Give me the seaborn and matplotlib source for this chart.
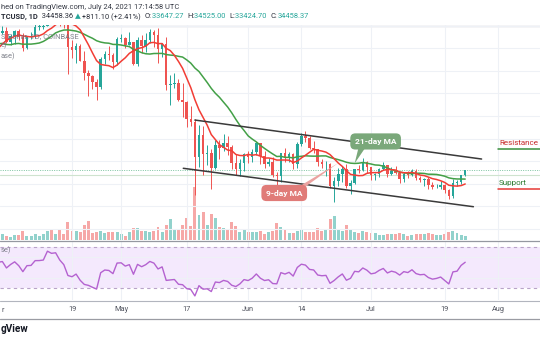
import numpy as np
import pandas as pd
import matplotlib
matplotlib.use("Agg")
import matplotlib.pyplot as plt
from matplotlib.lines import Line2D
import seaborn as sns

sns.set_theme(style="white")
plt.rcParams["font.family"] = ["Roboto", "DejaVu Sans"]

# ---------------- data: BTC/USD daily (Coinbase), 1 Apr - 24 Jul 2021 ----------------
dates = pd.date_range("2021-04-01", "2021-07-24", freq="D")

closes = [
    58720, 58980, 57060, 58200, 59120, 57990, 56040, 57990, 58080, 59760,
    59780, 59960, 63500, 62960, 63200, 61400, 60070, 56220, 55700, 56480,
    53800, 51700, 51180, 50110, 49080, 54020, 55050, 54860, 53560, 57720,
    57830, 56620, 57180, 53230, 57480, 56440, 57380, 58930, 58280, 55860,
    56750, 49500, 49690, 49860, 46760, 46450, 43560, 42880, 36700, 40620,
    37340, 37480, 34770, 38800, 38350, 39290, 38550, 35680, 34640, 35650,
    37300,
    36690, 37580, 39200, 36870, 35530, 35800, 33570, 33400, 37390, 36690,
    37340, 35550, 39020, 40530, 40160, 38330, 38100, 35820, 35480, 35600,
    31600, 32500, 33680, 34660, 31600, 32230, 34700, 34490, 35910, 35040,
    33540, 33800, 34670, 35290, 33690, 34230, 33860, 32880, 33810, 33520,
    34250, 33090, 32730, 32820, 31880, 31390, 31530, 31780, 30840, 29790,
    32140, 32290, 33647.27, 34458.37,
]
highs = [
    59460, 60000, 59800, 58500, 59250, 59500, 58650, 58150, 58900, 61200,
    60700, 61200, 63750, 64895, 63800, 63600, 62500, 60400, 57500, 57000,
    56800, 55500, 52100, 51200, 50500, 54400, 55500, 56400, 55200, 58000,
    58450, 57950, 58950, 57200, 57950, 58350, 58650, 59500, 59300, 59600,
    56900, 58000, 51350, 51550, 50650, 49800, 46650, 45800, 43550, 42450,
    42200, 38850, 38250, 39850, 39800, 40800, 40400, 38850, 37300, 36400,
    37500,
    37900, 38200, 39500, 39300, 37900, 36500, 36800, 34050, 37550, 38400,
    37650, 37450, 39350, 41000, 41330, 40500, 39550, 38200, 36450, 36100,
    35750, 33300, 34850, 35250, 35500, 32700, 34700, 35300, 36600, 36000,
    35050, 33950, 34900, 35950, 35300, 35050, 35100, 33900, 34100, 34250,
    34600, 34650, 33350, 33100, 33200, 32250, 31950, 32450, 31900, 31050,
    32850, 32600, 33650, 34525.00,
]
lows = [
    57950, 58450, 56900, 56500, 56800, 57500, 55500, 55800, 57700, 57900,
    59200, 59400, 59900, 61300, 62000, 60000, 59600, 51500, 54200, 53400,
    53700, 50400, 47500, 48800, 46900, 48800, 53300, 53900, 52400, 53050,
    57050, 56050, 56500, 53050, 52900, 55200, 55300, 56950, 56250, 53400,
    54400, 48600, 46000, 48900, 46650, 43900, 42100, 42300, 30000, 35050,
    33500, 35300, 31100, 34600, 36450, 37800, 37200, 34700, 33650, 33400,
    34200,
    35700, 35950, 37200, 35600, 34800, 35250, 33300, 31000, 32400, 35800,
    35950, 34650, 34800, 38750, 39500, 38100, 37400, 35150, 34850, 33350,
    31300, 28805, 31700, 32300, 31300, 30150, 32000, 33900, 34250, 34000,
    32700, 32700, 33300, 34400, 33200, 33550, 33800, 32100, 32250, 33050,
    33320, 32700, 32250, 31600, 31150, 31050, 31200, 31100, 30400, 29280,
    29500, 31700, 31950, 33424.70,
]
# daily traded volume, thousand BTC
volumes = [
    14.0, 14.4, 10.3, 7.9, 12.0, 12.0, 20.9, 10.3, 10.3, 14.4,
    9.6, 13.7, 21.6, 26.4, 13.7, 23.3, 14.4, 43.2, 20.9, 21.6,
    19.9, 36.0, 46.3, 17.5, 19.2, 21.6, 17.5, 18.5, 18.5, 19.2,
    14.4, 9.6, 18.5, 28.1, 28.1, 22.3, 21.6, 19.9, 21.6, 30.5,
    19.2, 35.3, 49.7, 25.7, 25.7, 36.7, 52.1, 33.6, 127.2, 60.0,
    66.5, 35.3, 63.1, 52.1, 30.5, 28.8, 24.0, 43.2, 34.3, 19.2,
    24.0,
    18.5, 18.5, 19.2, 22.3, 15.1, 18.5, 22.3, 40.1, 30.5, 24.0,
    17.5, 17.5, 20.9, 25.7, 19.9, 19.9, 19.9, 28.1, 22.3, 24.0,
    49.7, 57.6, 26.4, 21.6, 36.0, 24.0, 19.2, 17.5, 21.6, 19.2,
    17.5, 16.1, 11.3, 11.3, 14.4, 14.4, 14.4, 17.5, 15.1, 10.3,
    12.7, 14.4, 14.4, 14.4, 16.1, 15.1, 12.0, 11.3, 14.4, 19.2,
    20.9, 16.1, 12.0, 10.3,
]
# March 2021 closes, used only to warm up the moving averages and RSI
march_closes = [
    49600, 48400, 50350, 48370, 48750, 48880, 50970, 52380, 54880, 55860,
    57790, 57230, 61190, 59000, 55610, 56870, 58880, 57650, 58030, 58100,
    57350, 54090, 54340, 52300, 51300, 55050, 55850, 55780, 57620, 58780,
    58800,
]

tick_dates = pd.to_datetime(["2021-04-01", "2021-04-19", "2021-05-01", "2021-05-17",
                             "2021-06-01", "2021-06-14", "2021-07-01", "2021-07-19",
                             "2021-08-01"])
tick_labels = ["", "19", "May", "17", "Jun", "14", "Jul", "19", "Aug"]

# descending channel drawn on the chart
upper_dates = pd.to_datetime(["2021-05-19 00:00", "2021-07-28 00:00"])
upper_prices = [43300, 36400]
lower_dates = pd.to_datetime(["2021-05-16 04:00", "2021-07-26 00:00"])
lower_prices = [34760, 27960]

resistance = 38100
support = 31100
level_start = pd.Timestamp("2021-08-01")

# ---------------- derived series ----------------
opens = [march_closes[-1]] + closes[:-1]
o, h, l, c = map(np.asarray, (opens, highs, lows, closes))
rising = c >= o
colors = np.where(rising, "#26a69a", "#ef5350")

hist = pd.Series(march_closes + closes,
                 index=pd.date_range("2021-03-01", "2021-07-24", freq="D"))
ma9 = hist.rolling(9).mean().loc[dates[0]:]
ma21 = hist.rolling(21).mean().loc[dates[0]:]
delta = hist.diff()
gain = delta.clip(lower=0).ewm(alpha=1 / 14, adjust=False).mean()
loss = (-delta.clip(upper=0)).ewm(alpha=1 / 14, adjust=False).mean()
rsi = (100 - 100 / (1 + gain / loss)).loc[dates[0]:]

# ---------------- figure layout (pixel based) ----------------
W, H = 540, 340
fig = plt.figure(figsize=(W / 100, H / 100), dpi=100)
fig.patch.set_facecolor("white")


def fy(px):
    return 1 - px / H


ax = fig.add_axes([0, fy(240), 1, 215 / H])
axv = ax.twinx()
ax_r = fig.add_axes([0, fy(300), 1, 59 / H], sharex=ax)

anchor = pd.Timestamp("2021-04-19")
x0 = anchor - pd.Timedelta(days=17.58)
x1 = anchor + pd.Timedelta(days=114.26)

ax.set_zorder(2)
axv.set_zorder(1)
ax.patch.set_visible(False)
axv.patch.set_facecolor("white")

for a in (ax, axv, ax_r):
    for s in a.spines.values():
        s.set_visible(False)

# grid
ax.set_xlim(x0, x1)
ax.set_ylim(22068, 60123)
ax.set_yticks(np.arange(24000, 60001, 4000))
ax.set_xticks(tick_dates)
ax.grid(True, color="#eef1f6", lw=0.8)
ax.tick_params(labelbottom=False, labelleft=False, left=False, bottom=False, length=0)
axv.set_ylim(0, 516)
axv.set_yticks([])
axv.tick_params(right=False, labelright=False)

# volume
axv.bar(dates, volumes, width=0.72, color=colors, alpha=0.5, linewidth=0)

# price reference lines
ax.axhline(opens[-1], color="#cfe3cf", lw=0.8, zorder=1)
ax.axhline(closes[-1], color="#7cc4a0", lw=0.7, ls=(0, (1, 1.4)), zorder=1)

# candles
ax.vlines(dates, l, h, colors=colors, lw=0.7, zorder=3)
body = np.maximum(np.abs(c - o), 110)
ax.bar(dates, body, bottom=np.minimum(o, c), width=0.62, color=colors,
       linewidth=0, zorder=4)

# moving averages
sns.lineplot(x=ma21.index, y=ma21.values, ax=ax, color="#43a047", lw=1.1, zorder=5)
sns.lineplot(x=ma9.index, y=ma9.values, ax=ax, color="#f23d35", lw=1.1, zorder=6)
ax.set_xlabel("")
ax.set_ylabel("")

# channel
ax.plot(upper_dates, upper_prices, color="#3a3a3a", lw=1.1, zorder=7)
ax.plot(lower_dates, lower_prices, color="#3a3a3a", lw=1.1, zorder=7)

# resistance / support
ax.plot([level_start, x1], [resistance, resistance], color="#388e3c", lw=1.1, zorder=7)
ax.plot([level_start, x1], [support, support], color="#e53935", lw=1.1, zorder=7)
ax.annotate("Resistance", xy=(level_start, resistance), xytext=(1, 3),
            textcoords="offset pixels", fontsize=5.8, color="#c62828",
            ha="left", va="bottom", zorder=8)
ax.annotate("Support", xy=(level_start, support), xytext=(1, 3),
            textcoords="offset pixels", fontsize=5.8, color="#2e7d32",
            ha="left", va="bottom", zorder=8)

# MA call-outs
tip21 = pd.Timestamp("2021-06-27")
ax.annotate("21-day MA", xy=(tip21, ma21.loc[tip21]), xytext=(21, 22),
            textcoords="offset pixels", ha="center", va="center",
            fontsize=6, fontweight="bold", color="white", zorder=9,
            bbox=dict(boxstyle="round,pad=0.55,rounding_size=0.6",
                      fc="#7aa87a", ec="none"),
            arrowprops=dict(arrowstyle="wedge,tail_width=0.9,shrink_factor=0.5",
                            fc="#7aa87a", ec="none", patchA=None,
                            relpos=(0.2, 0.1), shrinkA=0, shrinkB=0))
tip9 = pd.Timestamp("2021-06-23")
ax.annotate("9-day MA", xy=(tip9, ma9.loc[tip9]), xytext=(-54, -30),
            textcoords="offset pixels", ha="center", va="center",
            fontsize=6, fontweight="bold", color="white", zorder=9,
            bbox=dict(boxstyle="round,pad=0.55,rounding_size=0.6",
                      fc="#e07b78", ec="none"),
            arrowprops=dict(arrowstyle="wedge,tail_width=0.5,shrink_factor=0.5",
                            fc="#eba3a1", ec="none", patchA=None,
                            relpos=(0.85, 0.9), shrinkA=0, shrinkB=0))

# ---------------- RSI pane ----------------
ax_r.set_ylim(18.75, 75.5)
ax_r.set_yticks([40, 60])
ax_r.grid(True, color="#eef1f6", lw=0.8)
ax_r.axhspan(30, 70, color="#f4e9fd", zorder=0, lw=0)
for lvl in (70, 30):
    ax_r.axhline(lvl, color="#b9a3c9", lw=0.8, ls=(0, (3, 3)), zorder=1)
sns.lineplot(x=rsi.index, y=rsi.values, ax=ax_r, color="#b462d0", lw=1.0, zorder=3)
ax_r.set_xlabel("")
ax_r.set_ylabel("")
ax_r.set_xticks(tick_dates)
ax_r.set_xticklabels(tick_labels)
ax_r.tick_params(axis="x", length=0, pad=4.5, labelsize=5.3, labelcolor="#50535e")
ax_r.tick_params(axis="y", left=False, labelleft=False)
ax_r.set_xlim(x0, x1)

# ---------------- frame lines ----------------
for ypx, col, lw in ((25.5, "#b2b5be", 0.9), (240.5, "#9598a1", 0.9),
                     (300.5, "#b2b5be", 0.8), (318.5, "#9a9ca3", 0.9)):
    fig.add_artist(Line2D([0, 1], [fy(ypx)] * 2, color=col, lw=lw,
                          transform=fig.transFigure))

# ---------------- texts ----------------
DARK = "#2a2e39"
TEAL = "#26a69a"
fig.text(1 / W, fy(7.5), "hed on TradingView.com, July 24, 2021 17:14:58 UTC",
         ha="left", va="center", fontsize=5.4, color="#363a45")

renderer = fig.canvas.get_renderer()
pieces = [("TCUSD, 1D", DARK, "bold"), ("  34458.36 ", DARK, "normal"),
          ("\u25b2", TEAL, "normal"), (" +811.10 (+2.41%)  ", DARK, "normal"),
          ("O:", DARK, "normal"), ("33647.27  ", TEAL, "normal"),
          ("H:", DARK, "normal"), ("34525.00  ", TEAL, "normal"),
          ("L:", DARK, "normal"), ("33424.70  ", TEAL, "normal"),
          ("C:", DARK, "normal"), ("34458.37", TEAL, "normal")]
xpos = 1.0
for s, col, wt in pieces:
    t = fig.text(xpos / W, fy(17), s, ha="left", va="center", fontsize=5.4,
                 color=col, fontweight=wt,
                 family=["Roboto", "DejaVu Sans"])
    xpos += t.get_window_extent(renderer).width

LEG = "#6a6d78"
fig.text(1 / W, fy(36.5), "S Dollar, 1D, COINBASE", ha="left",
         va="center", fontsize=5.4, color=LEG, alpha=0.85, zorder=10)
fig.text(1 / W, fy(45.5), "e)", ha="left", va="center",
         fontsize=5.4, color=LEG, alpha=0.85, zorder=10)
fig.text(1 / W, fy(56.5), "ase)", ha="left", va="center",
         fontsize=5.4, color=LEG, alpha=0.85, zorder=10)
fig.text(1 / W, fy(250.5), "se)", ha="left", va="center",
         fontsize=5.4, color=LEG, alpha=0.85, zorder=10)
fig.text(1 / W, fy(310), "r", ha="left", va="center",
         fontsize=5.3, color="#50535e")
fig.text(1 / W, fy(328.5), "gView", ha="left", va="center",
         fontsize=7.2, fontweight="bold", color="#131722")

fig.savefig("out.png", dpi=100, facecolor="white")
